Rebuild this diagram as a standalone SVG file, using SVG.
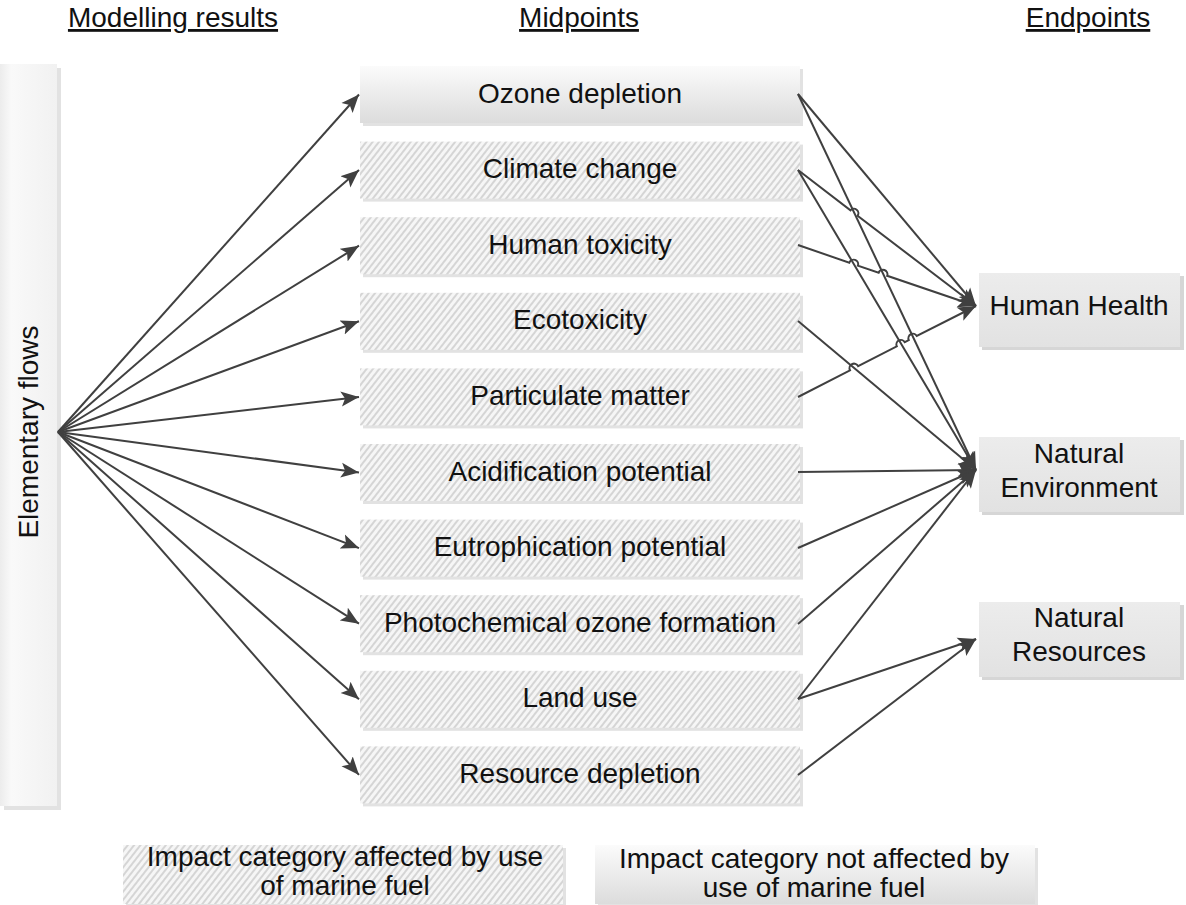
<svg xmlns="http://www.w3.org/2000/svg" width="1186" height="905" viewBox="0 0 1186 905">
<defs>
<style>
.t{font-family:"Liberation Sans",Arial,sans-serif;font-size:28px;fill:#111;text-anchor:middle}
.h{text-decoration:underline}
.sh{fill:#e2e2e2}
.hb{fill:url(#hatch)}
.c{fill:none;stroke:#404040;stroke-width:2}
.a{marker-end:url(#arr)}
</style>
<pattern id="hatch" patternUnits="userSpaceOnUse" width="5" height="5" patternTransform="rotate(38)">
<rect width="5" height="5" fill="#f6f6f6"/>
<line x1="1" y1="0" x2="1" y2="5" stroke="#bfbfbf" stroke-width="1.2"/>
</pattern>
<linearGradient id="gv" x1="0" y1="0" x2="0" y2="1">
<stop offset="0" stop-color="#fbfbfb"/>
<stop offset="1" stop-color="#dcdcdc"/>
</linearGradient>
<linearGradient id="ge" x1="0" y1="0" x2="0" y2="1">
<stop offset="0" stop-color="#ececec"/>
<stop offset="1" stop-color="#e2e2e2"/>
</linearGradient>
<linearGradient id="gh" x1="0" y1="0" x2="1" y2="0">
<stop offset="0" stop-color="#ececec"/>
<stop offset="0.2" stop-color="#f9f9f9"/>
<stop offset="1" stop-color="#f1f1f1"/>
</linearGradient>
<marker id="arr" markerUnits="userSpaceOnUse" markerWidth="20" markerHeight="16" refX="18" refY="7.5" orient="auto" viewBox="0 0 20 15">
<path d="M0,0 L18,7.5 L0,15 L4,7.5 Z" fill="#404040"/>
</marker>
</defs>

<g id="headers">
<text class="t h" x="173" y="27">Modelling results</text>
<text class="t h" x="579" y="27">Midpoints</text>
<text class="t h" x="1088" y="27">Endpoints</text>
</g>

<g id="elementary-flows">
<rect class="sh" x="4" y="68" width="57" height="742"/>
<rect x="0" y="64" width="57" height="742" fill="url(#gh)"/>
<text class="t" transform="translate(38,432) rotate(-90)">Elementary flows</text>
</g>

<g id="ozone-depletion">
<rect class="sh" x="363" y="69" width="440" height="57"/>
<rect x="360" y="66" width="440" height="57" fill="url(#gv)"/>
<text class="t" x="580" y="102.5">Ozone depletion</text>
</g>
<g id="climate-change">
<rect class="sh" x="363" y="144.6" width="440" height="57"/>
<rect class="hb" x="360" y="141.6" width="440" height="57"/>
<text class="t" x="580" y="178">Climate change</text>
</g>
<g id="human-toxicity">
<rect class="sh" x="363" y="220.2" width="440" height="57"/>
<rect class="hb" x="360" y="217.2" width="440" height="57"/>
<text class="t" x="580" y="253.7">Human toxicity</text>
</g>
<g id="ecotoxicity">
<rect class="sh" x="363" y="295.8" width="440" height="57"/>
<rect class="hb" x="360" y="292.8" width="440" height="57"/>
<text class="t" x="580" y="329.3">Ecotoxicity</text>
</g>
<g id="particulate-matter">
<rect class="sh" x="363" y="371.4" width="440" height="57"/>
<rect class="hb" x="360" y="368.4" width="440" height="57"/>
<text class="t" x="580" y="404.9">Particulate matter</text>
</g>
<g id="acidification-potential">
<rect class="sh" x="363" y="447" width="440" height="57"/>
<rect class="hb" x="360" y="444" width="440" height="57"/>
<text class="t" x="580" y="480.5">Acidification potential</text>
</g>
<g id="eutrophication-potential">
<rect class="sh" x="363" y="522.6" width="440" height="57"/>
<rect class="hb" x="360" y="519.6" width="440" height="57"/>
<text class="t" x="580" y="556.1">Eutrophication potential</text>
</g>
<g id="photochemical-ozone-formation">
<rect class="sh" x="363" y="598.2" width="440" height="57"/>
<rect class="hb" x="360" y="595.2" width="440" height="57"/>
<text class="t" x="580" y="631.7">Photochemical ozone formation</text>
</g>
<g id="land-use">
<rect class="sh" x="363" y="673.8" width="440" height="57"/>
<rect class="hb" x="360" y="670.8" width="440" height="57"/>
<text class="t" x="580" y="707.3">Land use</text>
</g>
<g id="resource-depletion">
<rect class="sh" x="363" y="749.4" width="440" height="57"/>
<rect class="hb" x="360" y="746.4" width="440" height="57"/>
<text class="t" x="580" y="782.9">Resource depletion</text>
</g>

<g id="human-health">
<rect x="982" y="276" width="202" height="74" fill="#d6d6d6"/>
<rect x="979" y="273" width="201" height="74" fill="url(#ge)"/>
<text class="t" x="1079" y="315">Human Health</text>
</g>
<g id="natural-environment">
<rect x="982" y="440" width="202" height="75" fill="#d6d6d6"/>
<rect x="979" y="437" width="201" height="75" fill="url(#ge)"/>
<text class="t" x="1079" y="463">Natural</text>
<text class="t" x="1079" y="497">Environment</text>
</g>
<g id="natural-resources">
<rect x="982" y="605" width="202" height="75" fill="#d6d6d6"/>
<rect x="979" y="602" width="201" height="75" fill="url(#ge)"/>
<text class="t" x="1079" y="627">Natural</text>
<text class="t" x="1079" y="661">Resources</text>
</g>

<g id="legend-affected">
<rect class="sh" x="126" y="848" width="440" height="59"/>
<rect class="hb" x="123" y="845" width="440" height="59"/>
<text class="t" x="345" y="866">Impact category affected by use</text>
<text class="t" x="345" y="895">of marine fuel</text>
</g>
<g id="legend-not-affected">
<rect class="sh" x="598" y="848" width="440" height="59"/>
<rect x="595" y="845" width="440" height="59" fill="url(#gv)"/>
<text class="t" x="814" y="868">Impact category not affected by</text>
<text class="t" x="814" y="897">use of marine fuel</text>
</g>

<g id="connectors">
<line class="c a" x1="58" y1="432" x2="359" y2="94.5"/>
<line class="c a" x1="58" y1="432" x2="359" y2="170.1"/>
<line class="c a" x1="58" y1="432" x2="359" y2="245.7"/>
<line class="c a" x1="58" y1="432" x2="359" y2="321.3"/>
<line class="c a" x1="58" y1="432" x2="359" y2="396.9"/>
<line class="c a" x1="58" y1="432" x2="359" y2="472.5"/>
<line class="c a" x1="58" y1="432" x2="359" y2="548.1"/>
<line class="c a" x1="58" y1="432" x2="359" y2="623.7"/>
<line class="c a" x1="58" y1="432" x2="359" y2="699.3"/>
<line class="c a" x1="58" y1="432" x2="359" y2="774.9"/>

<line class="c a" x1="798" y1="94" x2="976" y2="306"/>
<line class="c a" x1="798" y1="94" x2="976" y2="470"/>
<path class="c a" d="M798,170 L850.5,210.3 A4.5,4.5 0 0 1 857.6,215.8 L976,306"/>
<line class="c a" x1="798" y1="170" x2="976" y2="470"/>
<path class="c a" d="M798,245 L849.3,262.7 A4.5,4.5 0 0 1 857.9,265.7 L878.6,272.8 A4.5,4.5 0 0 1 887.2,275.8 L976,306"/>
<line class="c a" x1="798" y1="321" x2="976" y2="470"/>
<path class="c a" d="M798,397 L850.0,370.3 A4.5,4.5 0 0 1 858.1,366.1 L896.8,346.3 A4.5,4.5 0 0 1 904.8,342.2 L908.8,340.1 A4.5,4.5 0 0 1 916.8,336.0 L976,306"/>
<line class="c a" x1="798" y1="472" x2="976" y2="470"/>
<line class="c a" x1="798" y1="548" x2="976" y2="470"/>
<line class="c a" x1="798" y1="624" x2="976" y2="470"/>
<line class="c a" x1="798" y1="699" x2="976" y2="470"/>
<line class="c a" x1="798" y1="699" x2="976" y2="639"/>
<line class="c a" x1="798" y1="775" x2="976" y2="639"/>
</g>
</svg>
